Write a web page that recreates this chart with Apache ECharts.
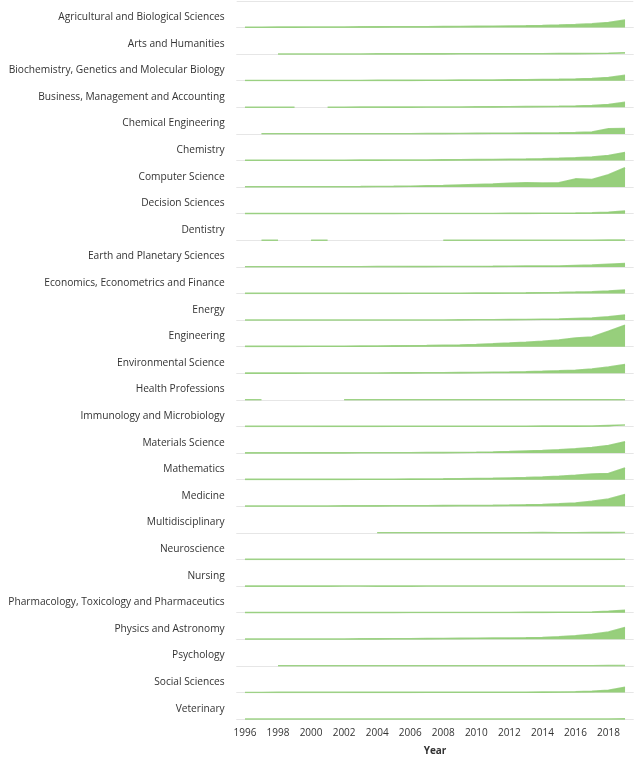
<!DOCTYPE html>
<html>
<head>
<meta charset="utf-8">
<script src="https://cdn.jsdelivr.net/npm/echarts@6/dist/echarts.min.js"></script>
<style>
  html, body { margin: 0; padding: 0; background: #fff; }
  #main { width: 640px; height: 761px; }
</style>
</head>
<body>
<div id="main"></div>
<script>
const years = ['1996', '1997', '1998', '1999', '2000', '2001', '2002', '2003', '2004', '2005', '2006', '2007',
  '2008', '2009', '2010', '2011', '2012', '2013', '2014', '2015', '2016', '2017', '2018', '2019']

const subjects = [
  'Agricultural and Biological Sciences',
  'Arts and Humanities',
  'Biochemistry, Genetics and Molecular Biology',
  'Business, Management and Accounting',
  'Chemical Engineering',
  'Chemistry',
  'Computer Science',
  'Decision Sciences',
  'Dentistry',
  'Earth and Planetary Sciences',
  'Economics, Econometrics and Finance',
  'Energy',
  'Engineering',
  'Environmental Science',
  'Health Professions',
  'Immunology and Microbiology',
  'Materials Science',
  'Mathematics',
  'Medicine',
  'Multidisciplinary',
  'Neuroscience',
  'Nursing',
  'Pharmacology, Toxicology and Pharmaceutics',
  'Physics and Astronomy',
  'Psychology',
  'Social Sciences',
  'Veterinary'
]

// documents per year, one array per subject area
const agricultural = [30, 30, 35, 40, 45, 50, 55, 60, 65, 70, 75, 80, 90, 100, 110, 120, 140, 160, 190, 230, 280, 350, 480, 720]
const arts = [null, null, 10, 10, 10, 15, 15, 15, 20, 20, 20, 25, 25, 30, 30, 35, 35, 40, 40, 50, 50, 60, 80, 120]
const biochemistry = [20, 20, 20, 20, 20, 25, 25, 25, 30, 30, 35, 40, 45, 55, 65, 75, 85, 95, 110, 130, 160, 210, 320, 520]
const business = [10, 10, 10, 10, null, 10, 10, 15, 15, 20, 20, 25, 30, 35, 40, 45, 55, 65, 80, 100, 130, 180, 280, 480]
const chemicalEng = [null, 10, 10, 10, 10, 10, 10, 15, 15, 15, 20, 25, 30, 40, 50, 60, 70, 80, 85, 100, 120, 180, 500, 520]
const chemistry = [20, 20, 20, 25, 25, 30, 30, 35, 40, 45, 50, 55, 65, 75, 85, 100, 120, 140, 170, 210, 260, 340, 480, 780]
const computerSci = [30, 30, 30, 30, 30, 35, 40, 45, 55, 70, 90, 120, 150, 200, 250, 300, 380, 420, 400, 420, 800, 750, 1200, 1900]
const decision = [10, 10, 10, 10, 10, 10, 10, 10, 10, 10, 15, 15, 15, 15, 20, 25, 30, 35, 40, 50, 60, 80, 130, 260]
const dentistry = [null, 10, 10, null, 10, 10, null, null, null, null, null, null, 10, 10, 10, 10, 10, 10, 10, 10, 10, 10, 15, 20]
const earth = [20, 20, 20, 20, 20, 20, 20, 20, 25, 25, 30, 30, 35, 40, 45, 55, 70, 90, 80, 90, 130, 170, 260, 330]
const economics = [10, 10, 10, 10, 10, 10, 10, 15, 15, 15, 20, 20, 25, 30, 35, 40, 50, 60, 80, 100, 130, 170, 240, 330]
const energy = [10, 10, 10, 10, 10, 10, 10, 10, 10, 10, 10, 15, 15, 20, 30, 40, 50, 60, 80, 100, 150, 200, 320, 500]
const engineering = [30, 30, 30, 35, 40, 40, 50, 60, 70, 80, 90, 110, 140, 170, 220, 280, 350, 430, 520, 650, 850, 950, 1500, 2100]
const environmental = [20, 20, 20, 20, 25, 25, 30, 30, 35, 40, 45, 50, 60, 70, 80, 100, 120, 150, 190, 240, 300, 420, 600, 850]
const health = [10, 10, null, null, null, null, 10, 10, 10, 10, 10, 10, 10, 10, 10, 10, 10, 10, 10, 10, 10, 10, 15, 20]
const immunology = [10, 10, 10, 10, 10, 15, 15, 15, 15, 20, 20, 20, 25, 25, 25, 30, 30, 30, 35, 35, 40, 50, 100, 150]
const materials = [20, 20, 20, 20, 25, 25, 25, 30, 30, 35, 40, 45, 50, 60, 80, 110, 150, 200, 250, 330, 420, 550, 750, 1100]
const mathematics = [30, 30, 30, 30, 30, 35, 35, 40, 45, 50, 60, 70, 80, 100, 120, 140, 170, 200, 260, 330, 430, 560, 600, 1150]
const medicine = [30, 30, 30, 30, 35, 35, 40, 40, 45, 50, 55, 60, 70, 75, 80, 90, 110, 140, 180, 240, 330, 480, 700, 1150]
const multidisciplinary = [null, null, null, null, null, null, null, null, 10, 10, 10, 10, 10, 10, 10, 10, 15, 20, 25, 20, 20, 25, 30, 40]
const neuroscience = [10, 10, 10, 10, 10, 10, 10, 10, 10, 10, 10, 10, 10, 10, 10, 10, 10, 10, 10, 10, 10, 10, 15, 20]
const nursing = [0, 0, 0, 0, 0, 0, 10, 10, 0, 0, 0, 10, 10, 10, 10, 10, 10, 10, 10, 10, 10, 10, 10, 15]
const pharmacology = [10, 10, 10, 10, 10, 10, 10, 10, 10, 10, 15, 15, 15, 15, 20, 20, 25, 30, 35, 40, 50, 70, 140, 230]
const physics = [30, 30, 30, 30, 30, 35, 35, 40, 45, 50, 60, 70, 80, 90, 100, 110, 120, 140, 170, 250, 350, 500, 700, 1150]
const psychology = [null, null, 10, 10, 10, 10, 10, 10, 10, 10, 10, 10, 10, 10, 10, 10, 10, 10, 10, 15, 15, 20, 25, 30]
const social = [0, 0, 10, 10, 10, 10, 10, 15, 15, 15, 15, 20, 20, 20, 25, 25, 30, 30, 40, 50, 70, 110, 220, 520]
const veterinary = [10, 10, 10, 10, 10, 10, 10, 10, 10, 10, 10, 10, 10, 10, 10, 10, 10, 10, 10, 10, 10, 15, 15, 20]

const rows = [agricultural, arts, biochemistry, business, chemicalEng, chemistry, computerSci, decision,
  dentistry, earth, economics, energy, engineering, environmental, health, immunology, materials,
  mathematics, medicine, multidisciplinary, neuroscience, nursing, pharmacology, physics, psychology,
  social, veterinary]

const yMax = 2600

const chartDom = document.getElementById('main')
const myChart = echarts.init(chartDom)

const rowTop = 0.9
const rowHeight = 26.6
const last = subjects.length - 1
const fontFamily = '"Open Sans", sans-serif'

const grid = []
const xAxis = []
const yAxis = []
const series = []

subjects.forEach((name, i) => {
  grid.push({
    left: 236.7,
    right: 6.7,
    top: rowTop + i * rowHeight,
    height: rowHeight,
  })
  xAxis.push({
    type: 'category',
    gridIndex: i,
    data: years,
    boundaryGap: true,
    axisLine: { lineStyle: { color: '#e6e6e6', width: 1 } },
    axisTick: { show: false },
    axisLabel: {
      show: i === last,
      interval: 1,
      margin: 9,
      color: '#333',
      fontSize: 10,
      fontFamily,
    },
    name: i === last ? 'Year' : '',
    nameLocation: 'middle',
    nameGap: 27,
    nameTextStyle: { color: '#333', fontSize: 10, fontWeight: 'bold', fontFamily },
  })
  yAxis.push({
    type: 'value',
    gridIndex: i,
    min: 0,
    max: yMax,
    interval: yMax,
    axisLine: { show: false },
    axisTick: { show: false },
    axisLabel: { show: false },
    splitLine: { show: i === 0, lineStyle: { color: '#e6e6e6' } },
    name,
    nameLocation: 'middle',
    nameRotate: 0,
    nameGap: 12,
    nameTextStyle: {
      color: '#333',
      fontSize: 10.2,
      fontFamily,
      align: 'right',
      verticalAlign: 'top',
      padding: [-2, 0, 0, 0],
    },
  })
  series.push({
    name,
    type: 'line',
    xAxisIndex: i,
    yAxisIndex: i,
    data: rows[i],
    symbol: 'none',
    connectNulls: false,
    lineStyle: { color: '#91cc75', width: 1.6, opacity: 0.85 },
    areaStyle: { color: '#91cc75', opacity: 0.95 },
  })
})

const option = {
  animation: false,
  grid,
  xAxis,
  yAxis,
  series,
}

option && myChart.setOption(option)
</script>
</body>
</html>
